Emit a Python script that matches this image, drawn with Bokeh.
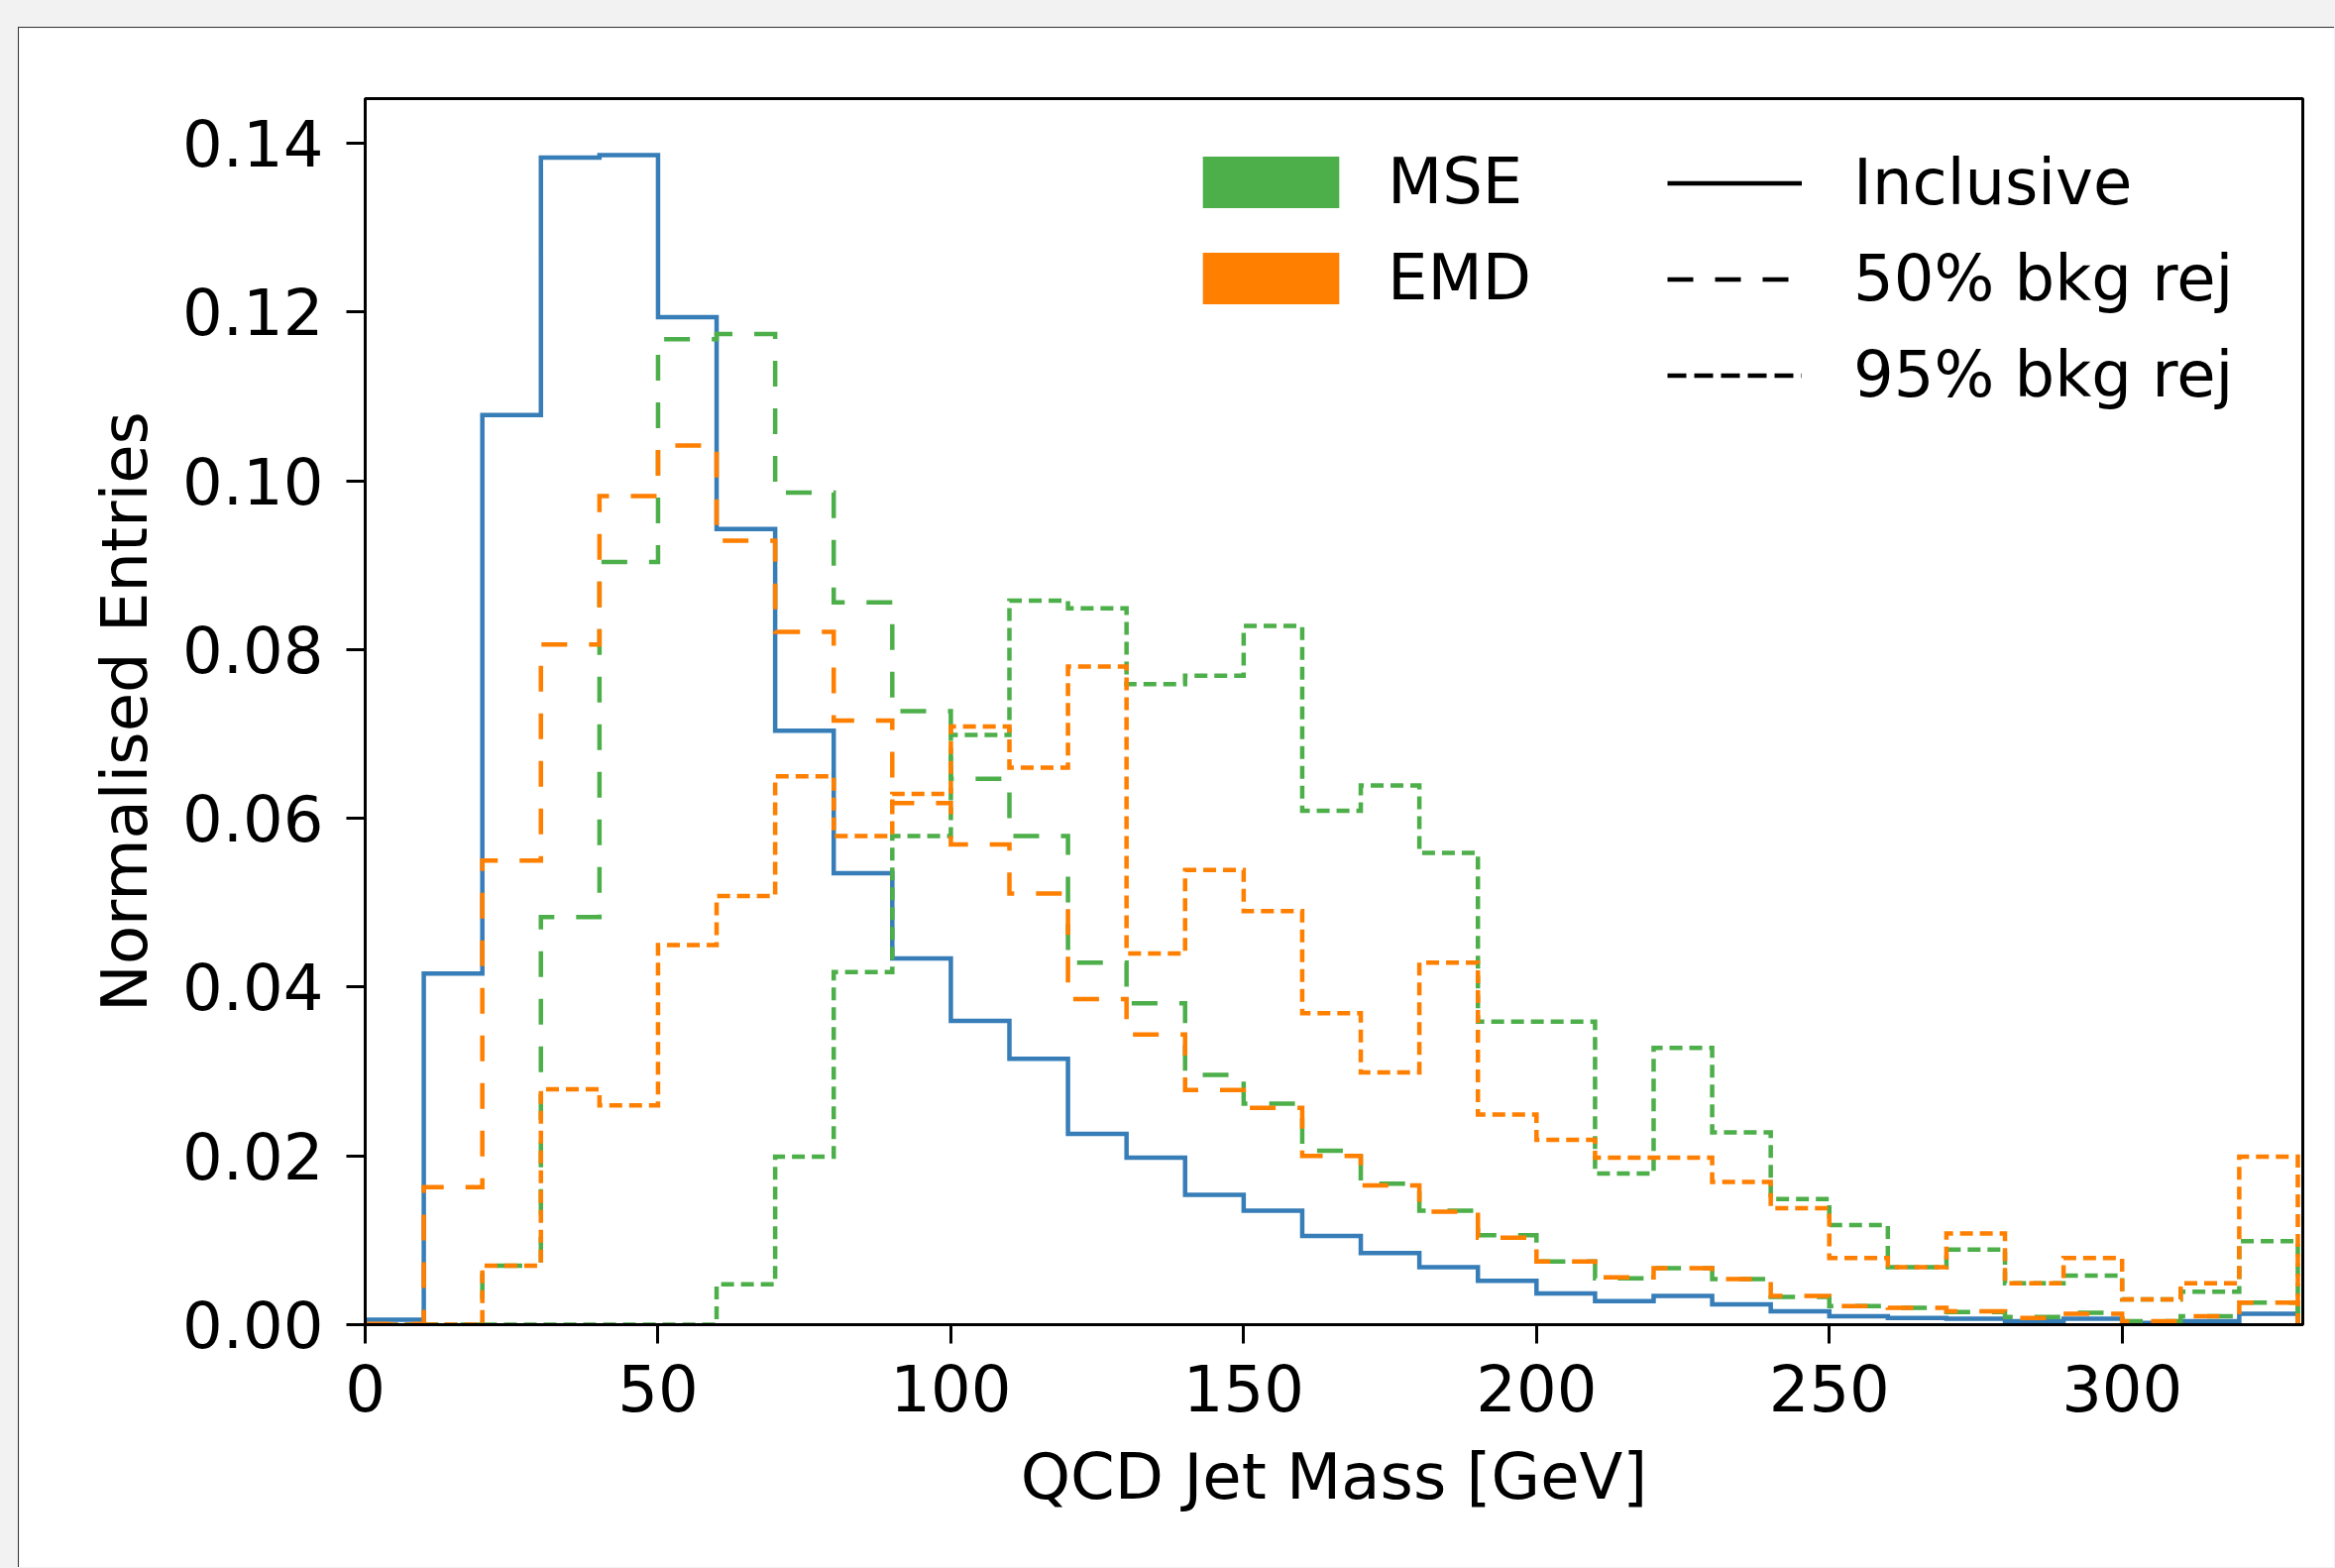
import numpy as np
from bokeh.plotting import figure
from bokeh.models import Range1d, Legend, LegendItem, FixedTicker, PrintfTickFormatter
from bokeh.embed import file_html
from bokeh.resources import INLINE

# ---------------- data ----------------
bin_edges = [0, 10, 20, 30, 40, 50, 60, 70, 80, 90, 100, 110, 120, 130, 140, 150, 160,
             170, 180, 190, 200, 210, 220, 230, 240, 250, 260, 270, 280, 290, 300, 310, 320, 330]

inclusive = [0.0006, 0.0416, 0.1078, 0.1383, 0.1386, 0.1194, 0.0943, 0.0704, 0.0535, 0.0434,
             0.0360, 0.0315, 0.0226, 0.0198, 0.0154, 0.0135, 0.0105, 0.0085, 0.0068, 0.0052,
             0.0037, 0.0028, 0.0034, 0.0024, 0.0016, 0.0010, 0.0008, 0.0007, 0.0004, 0.0007,
             0.0002, 0.0004, 0.0013]

mse_50 = [0.0, 0.0, 0.0070, 0.0483, 0.0904, 0.1168, 0.1174, 0.0986, 0.0856, 0.0727,
          0.0647, 0.0579, 0.0429, 0.0381, 0.0296, 0.0262, 0.0206, 0.0167, 0.0135, 0.0106,
          0.0075, 0.0055, 0.0067, 0.0054, 0.0033, 0.0022, 0.0020, 0.0015, 0.0009, 0.0014,
          0.0004, 0.0010, 0.0026]

mse_95 = [0.0, 0.0, 0.0, 0.0, 0.0, 0.0, 0.0048, 0.0199, 0.0418, 0.0579,
          0.0699, 0.0858, 0.0849, 0.0759, 0.0769, 0.0828, 0.0609, 0.0639, 0.0559, 0.0359,
          0.0359, 0.0179, 0.0328, 0.0228, 0.0149, 0.0118, 0.0068, 0.0089, 0.0049, 0.0058,
          0.0030, 0.0039, 0.0099]

emd_50 = [0.0001, 0.0163, 0.0550, 0.0806, 0.0982, 0.1042, 0.0929, 0.0821, 0.0716, 0.0618,
          0.0569, 0.0511, 0.0386, 0.0344, 0.0278, 0.0257, 0.0200, 0.0165, 0.0134, 0.0103,
          0.0075, 0.0056, 0.0067, 0.0054, 0.0034, 0.0022, 0.0020, 0.0016, 0.0008, 0.0013,
          0.0004, 0.0010, 0.0026]

emd_95 = [0.0, 0.0, 0.0070, 0.0279, 0.0260, 0.0450, 0.0508, 0.0650, 0.0579, 0.0629,
          0.0709, 0.0660, 0.0780, 0.0440, 0.0539, 0.0490, 0.0369, 0.0299, 0.0429, 0.0249,
          0.0219, 0.0198, 0.0198, 0.0169, 0.0138, 0.0079, 0.0068, 0.0108, 0.0049, 0.0079,
          0.0030, 0.0049, 0.0199]

x_ticks = [0, 50, 100, 150, 200, 250, 300]
y_ticks = [0.00, 0.02, 0.04, 0.06, 0.08, 0.10, 0.12, 0.14]
method_labels = ["MSE", "EMD"]
cut_labels = ["Inclusive", "50% bkg rej", "95% bkg rej"]

# ---------------- styling ----------------
BLUE = "#377eb8"
GREEN = "#4daf4a"
ORANGE = "#ff7f00"
FONT = "DejaVu Sans"
FS = "64px"
LONG_DASH = "26 22"
SHORT_DASH = "13 7"
LW = 4.5

p = figure(frame_width=1955, frame_height=1237,
           x_range=Range1d(0, 330.85), y_range=Range1d(0, 0.1453),
           output_backend="svg", toolbar_location=None,
           min_border_left=349, min_border_right=32,
           min_border_top=71, min_border_bottom=245)

p.background_fill_color = "white"
p.border_fill_color = "white"
p.grid.visible = False
p.outline_line_color = "black"
p.outline_line_width = 3
p.outline_line_alpha = 1.0

for ax in (p.xaxis[0], p.yaxis[0]):
    ax.axis_line_width = 3
    ax.axis_line_color = "black"
    ax.major_tick_line_width = 3
    ax.major_tick_line_color = "black"
    ax.major_tick_out = 19
    ax.major_tick_in = 0
    ax.minor_tick_out = 0
    ax.minor_tick_in = 0
    ax.major_label_text_font = FONT
    ax.major_label_text_font_size = FS
    ax.major_label_text_color = "black"
    ax.axis_label_text_font = FONT
    ax.axis_label_text_font_size = FS
    ax.axis_label_text_font_style = "normal"
    ax.axis_label_text_color = "black"

p.xaxis.ticker = FixedTicker(ticks=x_ticks)
p.yaxis.ticker = FixedTicker(ticks=y_ticks)
p.yaxis.formatter = PrintfTickFormatter(format="%.2f")
p.xaxis.axis_label = "QCD Jet Mass [GeV]"
p.yaxis.axis_label = "Normalised Entries"
p.xaxis.major_label_standoff = 21
p.yaxis.major_label_standoff = 23
p.xaxis.axis_label_standoff = 26
p.yaxis.axis_label_standoff = 18


def step_outline(edges, vals):
    e = np.asarray(edges, dtype=float)
    v = np.asarray(vals, dtype=float)
    xs = np.repeat(e, 2)
    ys = np.concatenate([[0.0], np.repeat(v, 2), [0.0]])
    return xs, ys


series = [
    (inclusive, BLUE, "solid"),
    (mse_50, GREEN, LONG_DASH),
    (mse_95, GREEN, SHORT_DASH),
    (emd_50, ORANGE, LONG_DASH),
    (emd_95, ORANGE, SHORT_DASH),
]
for vals, col, dash in series:
    xs, ys = step_outline(bin_edges, vals)
    p.line(xs, ys, line_color=col, line_width=LW, line_dash=dash, line_join="miter")

# ---------------- legends (proxy renderers with no visible data) ----------------
NAN = [float("nan")]
r_mse = p.quad(left=NAN, right=NAN, top=NAN, bottom=NAN, fill_color=GREEN, line_color=None)
r_emd = p.quad(left=NAN, right=NAN, top=NAN, bottom=NAN, fill_color=ORANGE, line_color=None)
r_inc = p.line(x=NAN, y=NAN, line_color="black", line_width=LW)
r_50 = p.line(x=NAN, y=NAN, line_color="black", line_width=LW, line_dash="26 22")
r_95 = p.line(x=NAN, y=NAN, line_color="black", line_width=LW, line_dash="19 8")

leg1 = Legend(items=[LegendItem(label=method_labels[0], renderers=[r_mse]),
                     LegendItem(label=method_labels[1], renderers=[r_emd])],
              location=(828, 1019))
leg2 = Legend(items=[LegendItem(label=cut_labels[0], renderers=[r_inc]),
                     LegendItem(label=cut_labels[1], renderers=[r_50]),
                     LegendItem(label=cut_labels[2], renderers=[r_95])],
              location=(1314, 921))
for lg, gw, gh, so in ((leg1, 172, 65, 32), (leg2, 136, 51, 52)):
    lg.glyph_width = gw
    lg.glyph_height = gh
    lg.label_standoff = so
    lg.spacing = 23
    lg.padding = 0
    lg.margin = 0
    lg.border_line_alpha = 0
    lg.background_fill_alpha = 0
    lg.label_text_font = FONT
    lg.label_text_font_size = FS
    lg.label_text_color = "black"
    p.add_layout(lg, "center")

# outer window-like frame
p.margin = (27, 0, 0, 18)
p.styles = {"border-left": "1px solid #333333", "border-top": "1px solid #333333"}

html = file_html(p, INLINE, title="QCD Jet Mass")
html = html.replace("</head>", "<style>html, body { background-color: #f2f2f2; }</style></head>", 1)
with open("out.html", "w") as f:
    f.write(html)
